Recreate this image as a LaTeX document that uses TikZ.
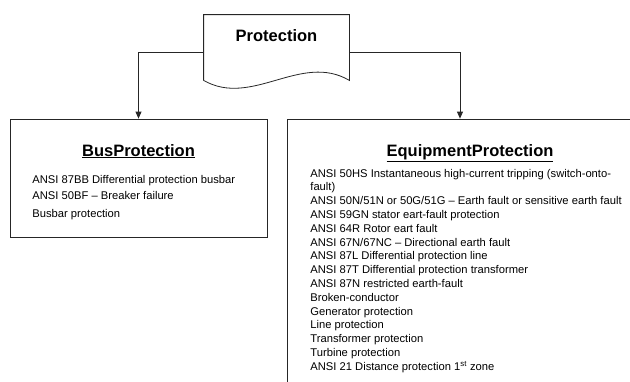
\documentclass[tikz,border=0pt]{standalone}
\usepackage{fontspec}
\setmainfont{Liberation Sans}
\usetikzlibrary{arrows.meta}

\begin{document}
\begin{tikzpicture}[x=1pt,y=-1pt,
      line width=0.8pt,
      frame/.style={draw=black!85, shape=rectangle, inner sep=0pt},
      heading/.style={anchor=base, inner sep=0pt, font=\fontsize{16.5}{18}\selectfont\bfseries},
      item/.style={anchor=base west, inner sep=0pt, font=\fontsize{11.2}{13}\selectfont},
      link/.style={draw=black!85, -{Triangle[length=7pt,width=6pt]}}]
  \useasboundingbox (0,0) rectangle (630,381);
  \clip (0,0) rectangle (630,381);
  % document shape on top
  \node[minimum width=145pt, minimum height=65pt, inner sep=0pt] (prot) at (276.5,47.5) {};
  \draw[draw=black!85] (prot.south west) -- (prot.north west) -- (prot.north east) -- (prot.south east)
    .. controls (301,52) and (252,108) .. (prot.south west);
  \node[heading] (protlbl) at (276.5,41) {Protection};
  % the two boxes
  \node[frame, minimum width=257pt, minimum height=118pt] (bus) at (138.5,178) {};
  \node[frame, minimum width=366pt, minimum height=300pt] (equip) at (470,269) {};
  \node[heading] (bustitle) at (138.5,156) {\underline{BusProtection}};
  \node[heading] (equiptitle) at (470,156) {\underline{EquipmentProtection}};
  \foreach \y/\t [count=\i] in {183/ANSI 87BB Differential protection busbar,
      199/ANSI 50BF -- Breaker failure, 217/Busbar protection}
    \node[item] (b\i) at (32,\y) {\t};
  \foreach \t [count=\i] in {ANSI 50HS Instantaneous high-current tripping (switch-onto-,
      fault),
      ANSI 50N/51N or 50G/51G -- Earth fault or sensitive earth fault,
      ANSI 59GN stator eart-fault protection,
      ANSI 64R Rotor eart fault,
      ANSI 67N/67NC -- Directional earth fault,
      ANSI 87L Differential protection line,
      ANSI 87T Differential protection transformer,
      ANSI 87N restricted earth-fault,
      Broken-conductor,
      Generator protection,
      Line protection,
      Transformer protection,
      Turbine protection,
      ANSI 21 Distance protection 1\textsuperscript{st} zone}
    \node[item] (eq\i) at (310,{177+(\i-1)*13.8}) {\t};
  % connectors
  \draw[link] ([yshift=-4.5pt]prot.west) -| (bus.north);
  \draw[link] ([yshift=-4.5pt]prot.east) -| ([xshift=-10pt]equip.north);
\end{tikzpicture}
\end{document}
